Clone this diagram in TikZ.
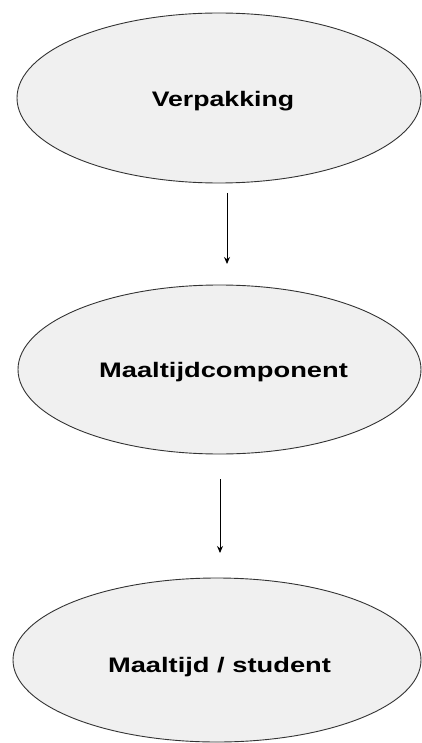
\documentclass[tikz,border=0pt]{standalone}
\usepackage{fontspec}
\setmainfont{Liberation Sans}
\usetikzlibrary{shapes.geometric,arrows.meta}
\definecolor{ellfill}{HTML}{F0F0F0}
\definecolor{ellline}{HTML}{333333}
\tikzset{
  blob/.style={ellipse, draw=ellline, fill=ellfill, line width=0.9pt, inner sep=0pt},
  lab/.style={inner sep=0pt, font=\fontsize{21}{24}\selectfont\bfseries},
  flow/.style={line width=1pt, -{Stealth[length=7pt,width=6pt]}}
}
\begin{document}
\begin{tikzpicture}[x=1pt,y=-1pt]
\useasboundingbox (0,0) rectangle (422,743);
\node[blob, minimum width=404pt, minimum height=170pt] (e1) at (219,98) {};
\node[blob, minimum width=403pt, minimum height=169pt] (e2) at (219.5,369.5) {};
\node[blob, minimum width=408pt, minimum height=164pt] (e3) at (217,660) {};
\node[lab, anchor=base] (t1) at (223,106.7) {\scalebox{1.27}[1]{Verpakking}};
\node[lab, anchor=base] (t2) at (223.5,377.3) {\scalebox{1.30}[1]{Maaltijdcomponent}};
\node[lab, anchor=base] (t3) at (219.5,672.7) {\scalebox{1.30}[1]{Maaltijd / student}};
\coordinate (a1s) at (227,193);
\coordinate (a1e) at (227,264);
\coordinate (a2s) at (220,479);
\coordinate (a2e) at (220,553);
\draw[flow] (a1s) -- (a1e);
\draw[flow] (a2s) -- (a2e);
\end{tikzpicture}
\end{document}
